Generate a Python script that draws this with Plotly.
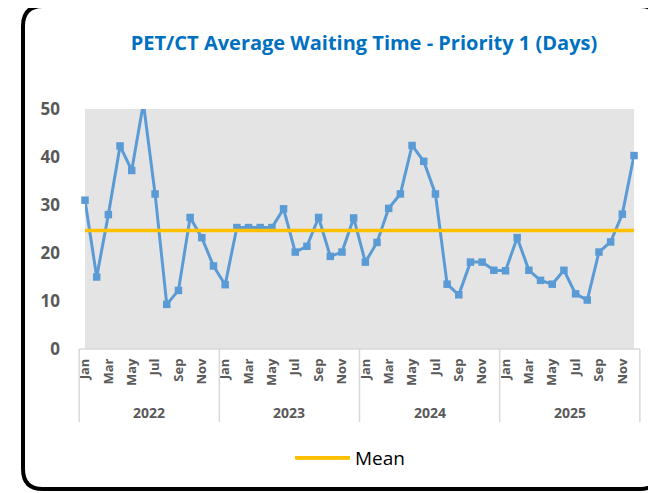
import plotly.graph_objects as go

years = ["2022", "2023", "2024", "2025"]
months = ["Jan", "Feb", "Mar", "Apr", "May", "Jun", "Jul", "Aug", "Sep", "Oct", "Nov", "Dec"]
month_labels_shown = ["Jan", "Mar", "May", "Jul", "Sep", "Nov"]

wait_2022 = [31.0, 15.0, 28.0, 42.3, 37.2, 51.2, 32.3, 9.3, 12.2, 27.4, 23.2, 17.3]
wait_2023 = [13.4, 25.3, 25.3, 25.3, 25.3, 29.2, 20.2, 21.4, 27.4, 19.3, 20.2, 27.3]
wait_2024 = [18.1, 22.2, 29.3, 32.3, 42.4, 39.1, 32.3, 13.5, 11.3, 18.1, 18.1, 16.4]
wait_2025 = [16.3, 23.2, 16.4, 14.3, 13.5, 16.4, 11.5, 10.2, 20.2, 22.3, 28.1, 40.3]
mean_value = 24.7

values = wait_2022 + wait_2023 + wait_2024 + wait_2025
n = len(values)
idx = list(range(n))
period_labels = [f"{m} {y}" for y in years for m in months]

OFF = 8  # page body margin
W, H = 656 - OFF, 493 - OFF
L, R, T, B = 85 - OFF, 656 - 634, 109 - OFF, 493 - 349
pw, ph = W - L - R, H - T - B


def px_x(p):
    return (p - OFF - L) / pw


def px_y(p):
    return (H - B - (p - OFF)) / ph


font_fam = "'Open Sans', Lato, sans-serif"
grey = "#595959"

fig = go.Figure()
fig.add_trace(go.Scatter(
    x=idx, y=values, mode="lines+markers",
    line=dict(color="#5B9BD5", width=3),
    marker=dict(symbol="square", size=7.5, color="#5B9BD5"),
    showlegend=False, name="Waiting time", cliponaxis=False,
    text=period_labels, hovertemplate="%{text}: %{y}<extra></extra>",
))
fig.add_trace(go.Scatter(
    x=[idx[0], idx[-1]], y=[mean_value, mean_value], mode="lines",
    line=dict(color="#FFC000", width=3.5), name="Mean", showlegend=True,
))

tickvals = [i for i in idx if months[i % 12] in month_labels_shown]
ticktext = [months[i % 12] for i in tickvals]

shapes = []
# axis line
shapes.append(dict(type="line", xref="paper", yref="paper",
                   x0=(-0.5) / (n - 1), x1=(n - 0.5) / (n - 1), y0=0, y1=0,
                   line=dict(color="#D9D9D9", width=1.5)))
# group dividers
for k in range(len(years) + 1):
    xb = (k * 12 - 0.5) / (n - 1)
    shapes.append(dict(type="line", xref="paper", yref="paper",
                       x0=xb, x1=xb, y0=0, y1=px_y(422),
                       line=dict(color="#D9D9D9", width=1.5)))

# legend symbol extension (reference legend line is wider than plotly's default)
shapes.append(dict(type="line", xref="paper", yref="paper",
                   x0=px_x(296), x1=px_x(349), y0=px_y(458), y1=px_y(458),
                   line=dict(color="#FFC000", width=3.5)))

# rounded border
l, r, t, b = px_x(23), px_x(660), px_y(6), px_y(489)
rx, ry = 20 / pw, 20 / ph
path = (f"M {l+rx},{t} L {r-rx},{t} Q {r},{t} {r},{t-ry} L {r},{b+ry} Q {r},{b} {r-rx},{b} "
        f"L {l+rx},{b} Q {l},{b} {l},{b+ry} L {l},{t-ry} Q {l},{t} {l+rx},{t} Z")
shapes.append(dict(type="path", xref="paper", yref="paper", path=path,
                   line=dict(color="black", width=4), fillcolor="rgba(0,0,0,0)"))

annotations = []
for k, y in enumerate(years):
    cx = (k * 12 + 5.5)
    annotations.append(dict(x=cx, xref="x", y=px_y(412), yref="paper", text=y,
                            showarrow=False, font=dict(family=font_fam, size=14, color=grey, weight="bold"),
                            xanchor="center", yanchor="middle"))

fig.update_layout(
    width=W, height=H,
    margin=dict(l=L, r=R, t=T, b=B),
    paper_bgcolor="white", plot_bgcolor="#E4E4E4",
    title=dict(text="<b>PET/CT Average Waiting Time - Priority 1 (Days)</b>",
               x=px_x(364), xref="paper", xanchor="center",
               y=1 - (43 - OFF) / H, yanchor="middle",
               font=dict(family=font_fam, size=20, color="#0070C0")),
    xaxis=dict(range=[0, n - 1], tickvals=tickvals, ticktext=ticktext, tickangle=-90,
               showgrid=False, zeroline=False, showline=False, ticks="",
               ticklabelstandoff=6,
               tickfont=dict(family=font_fam, size=13, color=grey, weight="bold")),
    yaxis=dict(range=[0, 50], dtick=10, showgrid=False, zeroline=False, showline=False,
               ticks="", ticklabelstandoff=24,
               tickfont=dict(family=font_fam, size=17, color=grey, weight="bold")),
    legend=dict(orientation="h", x=px_x(290), xanchor="left", y=px_y(458), yanchor="middle",
                itemwidth=55,
                font=dict(family=font_fam, size=19, color="black"), bgcolor="rgba(0,0,0,0)"),
    shapes=shapes, annotations=annotations,
)

fig.write_html("out.html")
